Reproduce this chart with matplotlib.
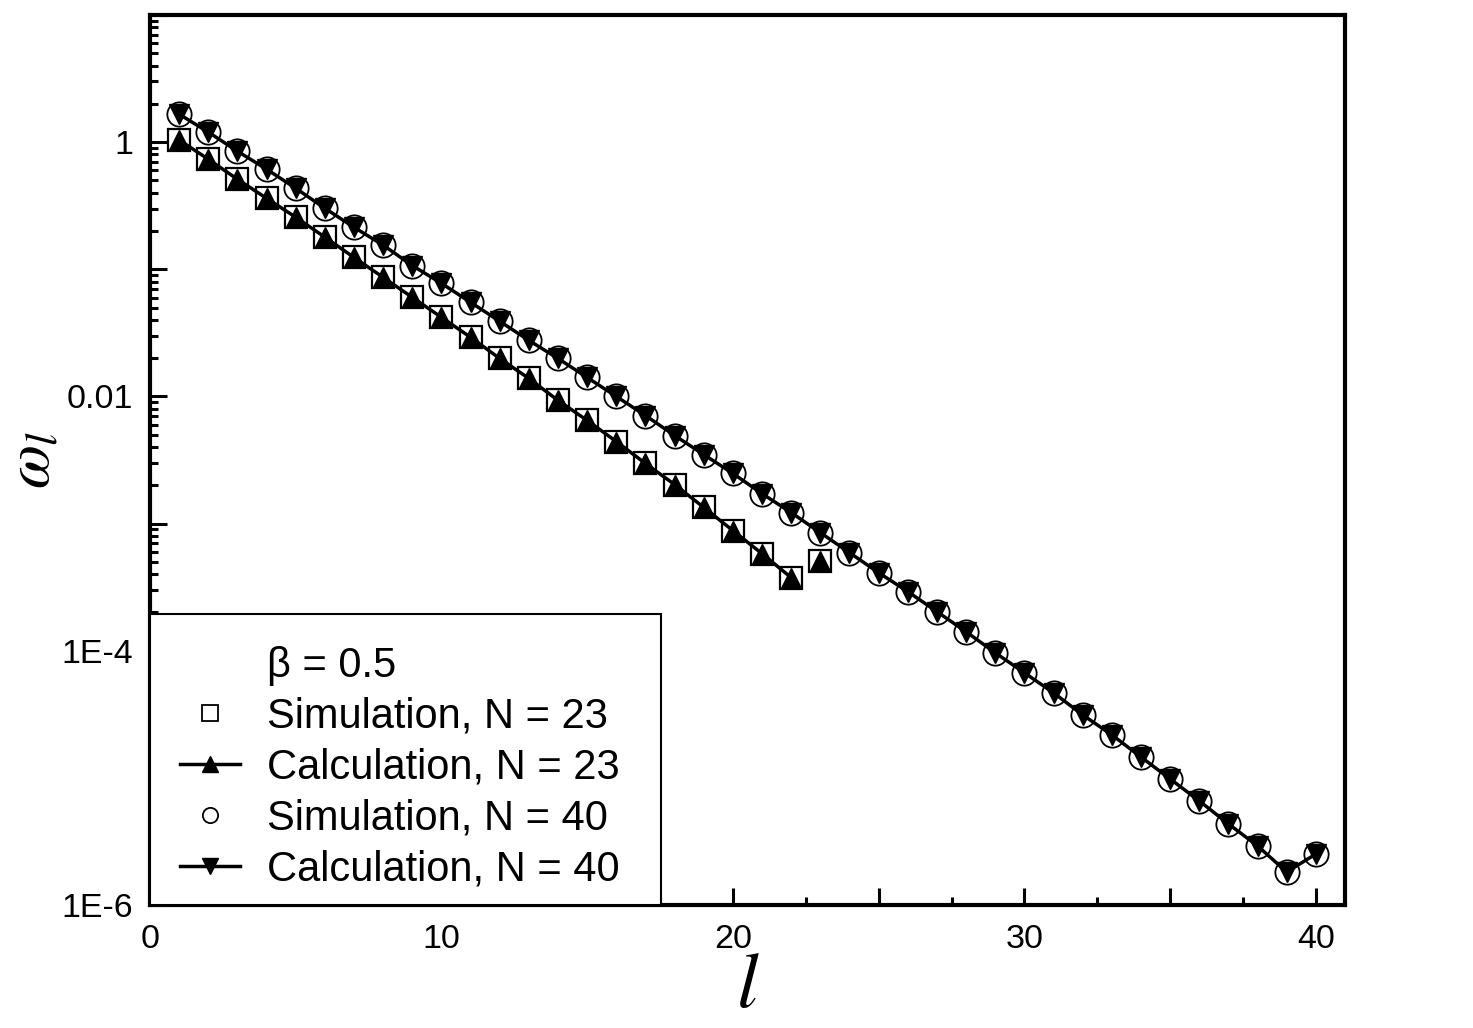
import numpy as np
import matplotlib.pyplot as plt
from matplotlib.lines import Line2D
from matplotlib.patches import Rectangle
from matplotlib.ticker import MultipleLocator, LogLocator, FuncFormatter

plt.rcParams['font.family'] = ['Liberation Sans', 'DejaVu Sans']
plt.rcParams['mathtext.fontset'] = 'stix'

# N = 23
l_23 = list(range(1, 24))
sim_23 = [1.04, 0.735, 0.511, 0.362, 0.257, 0.179, 0.124, 0.0864, 0.0602, 0.0419,
          0.0292, 0.0199, 0.01386, 0.00931, 0.00648, 0.00442, 0.00297, 0.00203,
          0.00134, 0.000881, 0.000580, 0.000376, 0.000512]
calc_23 = [1.04, 0.735, 0.511, 0.362, 0.257, 0.179, 0.124, 0.0864, 0.0602, 0.0419,
           0.0292, 0.0199, 0.01386, 0.00931, 0.00648, 0.00442, 0.00297, 0.00203,
           0.00134, 0.000881, 0.000580, 0.000376, 0.000512]

# N = 40
l_40 = list(range(1, 41))
sim_40 = [1.66, 1.20, 0.849, 0.613, 0.434, 0.302, 0.214, 0.155, 0.107, 0.0776,
          0.0550, 0.0390, 0.0276, 0.0199, 0.0141, 0.0100, 0.00708, 0.00493, 0.00349, 0.00248,
          0.00172, 0.00122, 0.000849, 0.000591, 0.000411, 0.000292, 0.000203, 0.000141,
          9.64e-5, 6.71e-5, 4.67e-5, 3.13e-5, 2.18e-5, 1.46e-5, 9.82e-6, 6.59e-6,
          4.35e-6, 2.92e-6, 1.82e-6, 2.52e-6]
calc_40 = [1.66, 1.20, 0.849, 0.613, 0.434, 0.302, 0.214, 0.155, 0.107, 0.0776,
           0.0550, 0.0390, 0.0276, 0.0199, 0.0141, 0.0100, 0.00708, 0.00493, 0.00349, 0.00248,
           0.00172, 0.00122, 0.000849, 0.000591, 0.000411, 0.000292, 0.000203, 0.000141,
           9.64e-5, 6.71e-5, 4.67e-5, 3.13e-5, 2.18e-5, 1.46e-5, 9.82e-6, 6.59e-6,
           4.35e-6, 2.92e-6, 1.82e-6, 2.52e-6]

y_labels = {0: '1', -2: '0.01', -4: '1E-4', -6: '1E-6'}

fig = plt.figure(figsize=(14.73, 10.28), dpi=100)
ax = fig.add_axes([0.1018, 0.1196, 0.8113, 0.8658])

# simulation N=23 (open squares), calculation N=23 (line up to l=22, triangles)
ax.plot(l_23, sim_23, ls='none', marker='s', ms=15.5, mfc='none', mec='k', mew=1.6)
ax.plot(l_23[:22], calc_23[:22], color='k', lw=2.5)
ax.plot(l_23, calc_23, ls='none', marker='^', ms=14, color='k')

# N=40
ax.plot(l_40, sim_40, ls='none', marker='o', ms=17.5, mfc='none', mec='k', mew=1.3)
ax.plot(l_40, calc_40, color='k', lw=2.5, marker='v', ms=14)

ax.set_yscale('log')
ax.set_ylim(1e-6, 10)
ax.set_xlim(0, 41)

ax.yaxis.set_major_locator(LogLocator(base=10, numticks=20))
ax.yaxis.set_minor_locator(LogLocator(base=10, subs=np.arange(2, 10), numticks=20))
ax.yaxis.set_major_formatter(FuncFormatter(lambda v, p: y_labels.get(int(round(np.log10(v))), '')))
ax.yaxis.set_minor_formatter(FuncFormatter(lambda v, p: ''))

ax.xaxis.set_major_locator(MultipleLocator(5))
ax.xaxis.set_minor_locator(MultipleLocator(2.5))
ax.xaxis.set_major_formatter(FuncFormatter(lambda v, p: '%d' % v if int(round(v)) % 10 == 0 else ''))

ax.tick_params(which='both', direction='in', top=False, right=False, width=2.2)
ax.tick_params(which='major', length=12, labelsize=24.5)
ax.tick_params(which='minor', length=6)
ax.tick_params(axis='y', pad=12)
ax.tick_params(axis='x', pad=14)

for s in ax.spines.values():
    s.set_linewidth(3)

ax.set_xlabel(r'$l$', fontsize=56, labelpad=-4)
ax.set_ylabel(r'$\omega_l$', fontsize=46, labelpad=0)

# legend box
ax.add_patch(Rectangle((0, 0), 0.4276, 0.327, transform=ax.transAxes,
                       facecolor='white', edgecolor='k', lw=1.5, zorder=4.5,
                       clip_on=False))

handles = [
    Line2D([], [], ls='none'),
    Line2D([], [], ls='none', marker='s', ms=11, mfc='none', mec='k', mew=1.3),
    Line2D([], [], color='k', lw=2.5, marker='^', ms=12),
    Line2D([], [], ls='none', marker='o', ms=11, mfc='none', mec='k', mew=1.3),
    Line2D([], [], color='k', lw=2.5, marker='v', ms=12),
]
labels = ['β = 0.5', 'Simulation, N = 23', 'Calculation, N = 23',
          'Simulation, N = 40', 'Calculation, N = 40']
leg = ax.legend(handles, labels, loc='lower left', bbox_to_anchor=(0.0251, 0.017),
                borderaxespad=0, borderpad=0, fontsize=30, frameon=False,
                handlelength=1.45, handletextpad=0.65, labelspacing=0.264)

fig.savefig('out.png', dpi=100)
